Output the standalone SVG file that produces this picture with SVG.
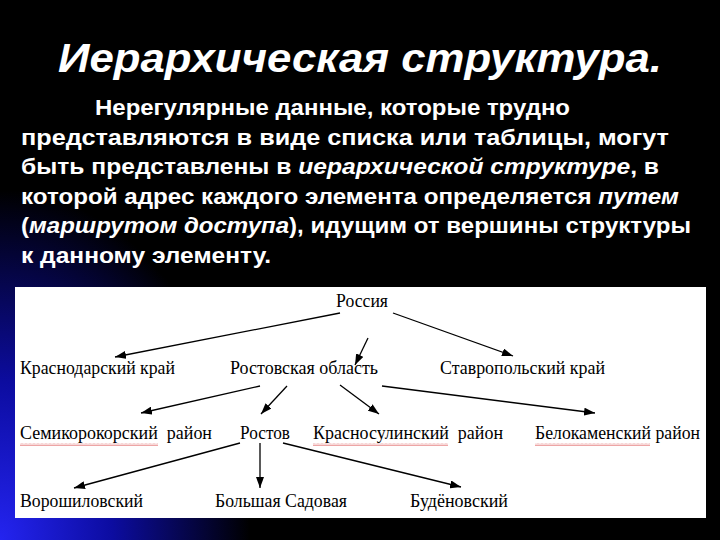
<svg xmlns="http://www.w3.org/2000/svg" width="720" height="540" viewBox="0 0 720 540">
  <defs>
    <radialGradient id="bg" gradientUnits="userSpaceOnUse" cx="0" cy="0" r="1" gradientTransform="translate(0 540) scale(250 350)">
      <stop offset="0" stop-color="#2424f0"/>
      <stop offset="0.45" stop-color="#0c0ca0"/>
      <stop offset="1" stop-color="#000000"/>
    </radialGradient>
    <marker id="ah" markerUnits="userSpaceOnUse" markerWidth="11" markerHeight="8" refX="11" refY="4" orient="auto">
      <path d="M0,0 L11,4 L0,8 z" fill="#000"/>
    </marker>
    <pattern id="wave" patternUnits="userSpaceOnUse" width="4" height="3">
      <path d="M0,2.5 L1,0.5 L2,2.5 L3,0.5 L4,2.5" fill="none" stroke="#e06a6a" stroke-width="0.6"/>
    </pattern>
    <style>
      .title { font-family: "Liberation Sans", Arial, sans-serif; font-weight: bold; font-style: italic; font-size: 40px; fill: #fff; }
      .para { font-family: "Liberation Sans", Arial, sans-serif; font-weight: bold; font-size: 22px; fill: #fff; }
      .it { font-style: italic; }
      .node { font-family: "Liberation Serif", "Times New Roman", serif; font-size: 19.5px; fill: #000; }
      .conn line { stroke: #000; stroke-width: 1.3; marker-end: url(#ah); }
    </style>
  </defs>

  <rect x="0" y="0" width="720" height="540" fill="#000"/>
  <rect x="0" y="0" width="720" height="540" fill="url(#bg)"/>

  <text class="title" x="58" y="72" textLength="604" lengthAdjust="spacingAndGlyphs">Иерархическая структура.</text>

  <g id="paragraph">
    <text class="para" x="95" y="115" textLength="475" lengthAdjust="spacingAndGlyphs">Нерегулярные данные, которые трудно</text>
    <text class="para" x="21" y="144.5" textLength="648" lengthAdjust="spacingAndGlyphs">представляются в виде списка или таблицы, могут</text>
    <text class="para" x="21" y="174" textLength="638" lengthAdjust="spacingAndGlyphs">быть представлены в <tspan class="it">иерархической структуре</tspan>, в</text>
    <text class="para" x="21" y="203.5" textLength="658" lengthAdjust="spacingAndGlyphs">которой адрес каждого элемента определяется <tspan class="it">путем</tspan></text>
    <text class="para" x="21" y="233" textLength="670" lengthAdjust="spacingAndGlyphs">(<tspan class="it">маршрутом доступа</tspan>), идущим от вершины структуры</text>
    <text class="para" x="21" y="262.5" textLength="250" lengthAdjust="spacingAndGlyphs">к данному элементу.</text>
  </g>

  <rect x="15" y="287" width="691" height="231" fill="#fff"/>

  <g id="connectors" class="conn">
    <line x1="340" y1="313" x2="115" y2="357"/>
    <line x1="368" y1="338" x2="355" y2="365"/>
    <line x1="393" y1="313" x2="513" y2="356"/>
    <line x1="260" y1="386" x2="141" y2="413"/>
    <line x1="287" y1="386" x2="261" y2="414"/>
    <line x1="340" y1="385" x2="379" y2="414"/>
    <line x1="382" y1="386" x2="595" y2="413"/>
    <line x1="240" y1="443" x2="74" y2="488"/>
    <line x1="260" y1="443" x2="260" y2="488"/>
    <line x1="283" y1="443" x2="461" y2="487"/>
  </g>

  <g id="n-rossiya"><text class="node" x="336" y="307" textLength="52" lengthAdjust="spacingAndGlyphs">Россия</text></g>
  <g id="n-krasnodar"><text class="node" x="20" y="374" textLength="155" lengthAdjust="spacingAndGlyphs">Краснодарский край</text></g>
  <g id="n-rostov-obl"><text class="node" x="230" y="374" textLength="148" lengthAdjust="spacingAndGlyphs">Ростовская область</text></g>
  <g id="n-stavropol"><text class="node" x="440" y="374" textLength="165" lengthAdjust="spacingAndGlyphs">Ставропольский край</text></g>
  <g id="n-semikarakorsk">
    <rect x="20" y="443" width="138" height="3" fill="url(#wave)"/>
    <text class="node" x="20" y="439" textLength="192" lengthAdjust="spacingAndGlyphs" xml:space="preserve">Семикорокорский  район</text>
  </g>
  <g id="n-rostov"><text class="node" x="240" y="439" textLength="50" lengthAdjust="spacingAndGlyphs">Ростов</text></g>
  <g id="n-krasnosulin">
    <rect x="313" y="443" width="135" height="3" fill="url(#wave)"/>
    <text class="node" x="313" y="439" textLength="190" lengthAdjust="spacingAndGlyphs" xml:space="preserve">Красносулинский  район</text>
  </g>
  <g id="n-belokalitva">
    <rect x="535" y="443" width="115" height="3" fill="url(#wave)"/>
    <text class="node" x="535" y="439" textLength="165" lengthAdjust="spacingAndGlyphs">Белокаменский район</text>
  </g>
  <g id="n-voroshilov"><text class="node" x="20" y="507" textLength="123" lengthAdjust="spacingAndGlyphs">Ворошиловский</text></g>
  <g id="n-bolshaya"><text class="node" x="215" y="507" textLength="132" lengthAdjust="spacingAndGlyphs">Большая Садовая</text></g>
  <g id="n-budennov"><text class="node" x="410" y="507" textLength="98" lengthAdjust="spacingAndGlyphs">Будёновский</text></g>
</svg>
